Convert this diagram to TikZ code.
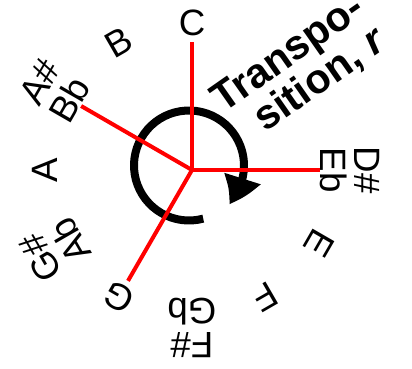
\documentclass[tikz,border=0pt]{standalone}
\usepackage{fontspec}
\setmainfont{Liberation Sans}
\usetikzlibrary{arrows.meta, bending, positioning}

\begin{document}
\begin{tikzpicture}[
    x=0.75pt, y=0.75pt,
    % styles
    note/.style={font=\fontsize{27.5}{26}\selectfont, align=center, inner sep=0pt},
    spoke/.style={draw=red, line width=3pt},
    turn/.style={draw=black, line width=6pt, -{Triangle[length=22pt, width=27pt, bend]}},
    tlabel/.style={font=\bfseries\fontsize{31}{28}\selectfont, align=right, inner sep=0pt, rotate=35}
]
\useasboundingbox (-192,-199) rectangle (220,170);

% centre, circle centre and spoke ends
\coordinate (o) at (0,0);
\coordinate (c) at (-3,4.5);
\coordinate (eC) at (90:128);
\coordinate (eDsEb) at (0:128);
\coordinate (eAsBb) at (150:128);
\coordinate (eG) at (240:128);

% note names round the circle
\node (nC)    [note, rotate=0]   at (90:147)  {C};
\node (nB)    [note, rotate=30]  at (120:147) {B};
\node (nAsBb) [note, rotate=60]  at (150:158) {A\#\\Bb};
\node (nA)    [note, rotate=90]  at (180:147) {A};
\node (nGsAb) [note, rotate=120] at (210:158) {G\#\\Ab};
\node (nG)    [note, rotate=150] at (240:147) {G};
\node (nFsGb) [note, rotate=180] at (270:158) {F\#\\Gb};
\node (nF)    [note, rotate=210] at (300:147) {F};
\node (nE)    [note, rotate=240] at (330:147) {E};
\node (nDsEb) [note, rotate=270] at (0:158)   {D\#\\Eb};

% transposition arrow
\draw [turn] (c) ++(285:55) arc[start angle=285, end angle=-44, radius=55];
\node (trans) [tlabel] at (108,99) {Transpo-\\sition, \textit{r}};

% spokes
\draw [spoke] (o) -- (eC);
\draw [spoke] (o) -- (eDsEb);
\draw [spoke] (o) -- (eAsBb);
\draw [spoke] (o) -- (eG);

\end{tikzpicture}
\end{document}
